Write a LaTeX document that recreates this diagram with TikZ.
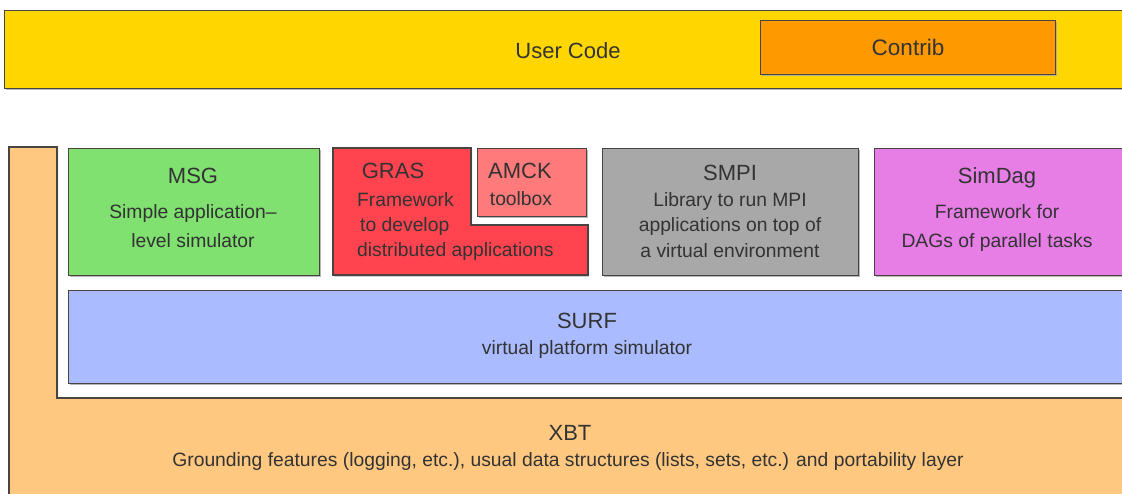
\documentclass[tikz,border=0pt]{standalone}
\usepackage{fontspec}
\setmainfont{Liberation Sans}
\usetikzlibrary{shadows}

\definecolor{usercol}{HTML}{FFD600}
\definecolor{contribcol}{HTML}{FF9900}
\definecolor{xbtcol}{HTML}{FFC880}
\definecolor{msgcol}{HTML}{80E070}
\definecolor{grascol}{HTML}{FF4450}
\definecolor{amckcol}{HTML}{FF7A7A}
\definecolor{smpicol}{HTML}{A8A8A8}
\definecolor{simdagcol}{HTML}{E67EE6}
\definecolor{surfcol}{HTML}{AABCFF}
\definecolor{edgecol}{HTML}{4A4440}

\tikzset{
  layer/.style={draw=edgecol, line width=1.2pt,
    drop shadow={shadow xshift=1.2pt, shadow yshift=-1.6pt, fill=black!35, opacity=0.8}},
  box/.style={layer, rectangle, anchor=north west, inner sep=0pt},
  title/.style={anchor=base, inner sep=0pt, font=\fontsize{22}{26}\selectfont, text=black!80},
  descr/.style={anchor=base, inner sep=0pt, font=\fontsize{19.3}{23}\selectfont, text=black!80},
  descrl/.style={descr, anchor=base west}
}

\begin{document}
\begin{tikzpicture}[x=1pt, y=-1pt]
  \clip (0,0) rectangle (1122,493);
  \fill[white] (0,0) rectangle (1122,493);

  % top layer: user code with the contrib area
  \node[box, fill=usercol, minimum width=1140pt, minimum height=78pt] (user) at (4,10) {};
  \node[box, fill=contribcol, minimum width=295pt, minimum height=54pt] (contrib) at (760,20) {};
  \node[title] (user-t) at (568,58) {User Code};
  \node[title, font=\fontsize{22.5}{26}\selectfont] (contrib-t) at (908,55) {Contrib};

  % XBT: L-shaped foundation wrapping the simulation layers
  \path[layer, fill=xbtcol] (9,147) -- (57,147) -- (57,398) -- (1140,398) -- (1140,500) -- (9,500) -- cycle;
  \node[title] (xbt-t) at (570,440) {XBT};
  \node[descr] (xbt-d) at (568,466) {Grounding features (logging, etc.), usual data structures (lists, sets, etc.) and portability layer};

  % SURF
  \node[box, fill=surfcol, minimum width=1080pt, minimum height=93pt] (surf) at (68,290) {};
  \node[title] (surf-t) at (587,328) {SURF};
  \node[descr] (surf-d) at (587,354) {virtual platform simulator};

  % MSG
  \node[box, fill=msgcol, minimum width=251pt, minimum height=127pt] (msg) at (68,148) {};
  \node[title] (msg-t) at (193,183) {MSG};
  \node[descr] (msg-d1) at (193,218) {Simple application–};
  \node[descr] (msg-d2) at (193,247) {level simulator};

  % GRAS: L-shaped block around AMCK
  \path[layer, fill=grascol] (333,148) -- (471,148) -- (471,225) -- (588,225) -- (588,275) -- (333,275) -- cycle;
  \node[title] (gras-t) at (393,178) {GRAS};
  \node[descrl] (gras-d1) at (357,206) {Framework};
  \node[descrl] (gras-d2) at (360,231) {to develop};
  \node[descrl] (gras-d3) at (357,256) {distributed applications};

  % AMCK
  \node[box, fill=amckcol, minimum width=109pt, minimum height=68pt] (amck) at (477,148) {};
  \node[title] (amck-t) at (520,178) {AMCK};
  \node[descr] (amck-d) at (521,205) {toolbox};

  % SMPI
  \node[box, fill=smpicol, minimum width=256pt, minimum height=127pt] (smpi) at (602,148) {};
  \node[title] (smpi-t) at (730,180) {SMPI};
  \node[descr] (smpi-d1) at (730,206) {Library to run MPI};
  \node[descr] (smpi-d2) at (730,231) {applications on top of};
  \node[descr] (smpi-d3) at (730,257) {a virtual environment};

  % SimDag
  \node[box, fill=simdagcol, minimum width=280pt, minimum height=127pt] (simdag) at (874,148) {};
  \node[title] (simdag-t) at (997,183) {SimDag};
  \node[descr] (simdag-d1) at (997,218) {Framework for};
  \node[descr] (simdag-d2) at (997,247) {DAGs of parallel tasks};
\end{tikzpicture}
\end{document}
